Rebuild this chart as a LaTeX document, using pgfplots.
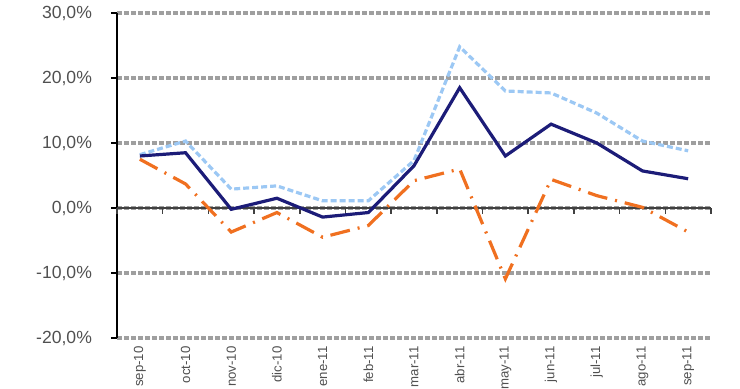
\documentclass[border=0pt]{standalone}
\usepackage{fontspec}
\setmainfont{Liberation Sans}
\usepackage{pgfplots}
\pgfplotsset{compat=1.18}
\definecolor{navy}{HTML}{1C1C78}
\definecolor{lblue}{HTML}{9CC8F4}
\definecolor{orng}{HTML}{F07020}
\definecolor{txt}{HTML}{505050}
\begin{document}
\begin{tikzpicture}
\path[use as bounding box] (-58.5pt,-25.5pt) rectangle (311.5pt,169pt);
\pgfplotsset{
  base/.style={
    width=297pt, height=162.5pt, scale only axis,
    xmin=-0.5, xmax=12.5, ymin=-20, ymax=30,
    /pgf/number format/assume math mode=true,
    every tick label/.append style={font=\fontsize{8.8}{10}\selectfont, text=txt},
  }
}
% axis 1: grid, y axis, labels
\begin{axis}[base,
  axis y line*=left, axis x line*=bottom,
  x axis line style={draw=none},
  y axis line style={black, line width=1.1pt},
  ytick={-20,-10,0,10,20,30},
  yticklabels={{-20,0\%},{-10,0\%},{0,0\%},{10,0\%},{20,0\%},{30,0\%}},
  yticklabel style={xshift=-6pt},
  ytick style={black, line width=1.1pt},
  tick align=outside, major tick length=3pt,
  ymajorgrids, grid style={gray!75, line width=1.6pt, dash pattern=on 2.5pt off 1pt},
  xtick={0,...,12},
  xticklabels={sep-10,oct-10,nov-10,dic-10,ene-11,feb-11,mar-11,abr-11,may-11,jun-11,jul-11,ago-11,sep-11},
  xticklabel style={rotate=90, anchor=east, inner sep=1pt, font=\fontsize{6.6}{8}\selectfont},
  xtick style={draw=none},
]
\end{axis}
% axis 2: zero line
\begin{axis}[base,
  axis x line*=middle, axis y line=none,
  x axis line style={black!75, line width=1.2pt},
  xtick={-0.5,0.5,...,12.5}, xticklabels={},
  tick align=outside, major tick length=3pt,
  xtick style={black!75, line width=0.8pt},
  ytick=\empty,
]
\end{axis}
% axis 3: data
\begin{axis}[base, hide axis]
\addplot[lblue, line width=1.6pt, dash pattern=on 3pt off 1.5pt] coordinates {
(0,8.2) (1,10.3) (2,2.9) (3,3.4) (4,1.1) (5,1.1) (6,7.3) (7,24.8) (8,18.0) (9,17.7) (10,14.6) (11,10.3) (12,8.8)};
\addplot[orng, line width=1.6pt, dash pattern=on 10pt off 4pt on 1pt off 4pt] coordinates {
(0,7.5) (1,3.7) (2,-3.7) (3,-0.7) (4,-4.5) (5,-2.7) (6,4.2) (7,6.0) (8,-10.9) (9,4.4) (10,1.9) (11,0.1) (12,-3.7)};
\addplot[navy, line width=1.6pt] coordinates {
(0,8.0) (1,8.5) (2,-0.2) (3,1.5) (4,-1.4) (5,-0.7) (6,6.5) (7,18.5) (8,8.0) (9,12.9) (10,10.0) (11,5.7) (12,4.5)};
\end{axis}
\end{tikzpicture}
\end{document}
